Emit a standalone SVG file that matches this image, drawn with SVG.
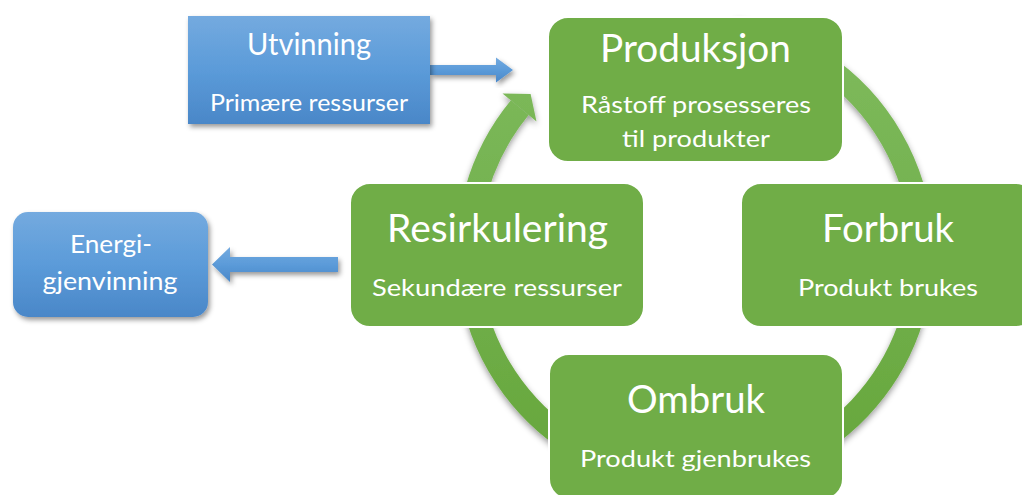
<svg xmlns="http://www.w3.org/2000/svg" width="1022" height="495" viewBox="0 0 1022 495">
  <defs>
    <linearGradient id="blueFill" x1="0" y1="0" x2="0" y2="1">
      <stop offset="0" stop-color="#74aadf"/>
      <stop offset="0.5" stop-color="#5b9bd9"/>
      <stop offset="1" stop-color="#4a87c8"/>
    </linearGradient>
    <linearGradient id="ringFill" gradientUnits="userSpaceOnUse" x1="0" y1="20" x2="0" y2="480">
      <stop offset="0" stop-color="#7fbb5e"/>
      <stop offset="1" stop-color="#66a63b"/>
    </linearGradient>
    <filter id="softShadow" x="-20%" y="-20%" width="140%" height="140%">
      <feDropShadow dx="2" dy="3" stdDeviation="2.5" flood-color="#000" flood-opacity="0.4"/>
    </filter>
    <filter id="ringShadow" x="-10%" y="-10%" width="120%" height="120%">
      <feDropShadow dx="0" dy="3" stdDeviation="3" flood-color="#000" flood-opacity="0.4"/>
    </filter>
  </defs>
  <style>
    .green { fill: #70ad47; stroke: #ffffff; stroke-width: 2; }
    .blue { fill: url(#blueFill); filter: url(#softShadow); }
    .arrow { fill: url(#blueFill); filter: url(#softShadow); }
    .title { font-family: Lato, "Liberation Sans", sans-serif; fill: #ffffff; text-anchor: middle; }
    .big { font-size: 39px; }
    .mid { font-size: 30px; }
    .small { font-size: 24px; }
    .box { font-size: 25px; }
  </style>

  <rect width="1022" height="495" fill="#ffffff"/>

  <!-- connectors: cycle ring with arrowhead, and the two block arrows -->
  <g id="connectors">
    <g filter="url(#ringShadow)">
      <path d="M734.4 28.4 A227 227 0 1 1 519.8 107.6" fill="none" stroke="url(#ringFill)" stroke-width="23"/>
      <polygon points="502.5,93.5 536.5,121.5 530.6,94" fill="url(#ringFill)"/>
    </g>
    <polygon class="arrow" points="430,65 496,65 496,57.5 513,70 496,82.5 496,75 430,75"/>
    <polygon class="arrow" points="338,257 230,257 230,247 212,264.5 230,282 230,272 338,272"/>
  </g>

  <g id="utvinning">
    <rect class="blue" x="188" y="16" width="242" height="108"/>
    <text class="title mid" x="309" y="55" textLength="124" lengthAdjust="spacingAndGlyphs">Utvinning</text>
    <text class="title small" x="309" y="111" textLength="198" lengthAdjust="spacingAndGlyphs">Primære ressurser</text>
  </g>

  <g id="energigjenvinning">
    <rect class="blue" x="13" y="212" width="195" height="105" rx="15"/>
    <text class="title box" x="111" y="253" textLength="82" lengthAdjust="spacingAndGlyphs">Energi-</text>
    <text class="title box" x="110" y="290" textLength="135" lengthAdjust="spacingAndGlyphs">gjenvinning</text>
  </g>

  <g id="produksjon">
    <rect class="green" x="548" y="17" width="295" height="145" rx="20"/>
    <text class="title big" x="695.5" y="62" textLength="191" lengthAdjust="spacingAndGlyphs">Produksjon</text>
    <text class="title small" x="696" y="113" textLength="230" lengthAdjust="spacingAndGlyphs">Råstoff prosesseres</text>
    <text class="title small" x="696" y="147" textLength="148" lengthAdjust="spacingAndGlyphs">til produkter</text>
  </g>

  <g id="forbruk">
    <rect class="green" x="741" y="183" width="295" height="144" rx="20"/>
    <text class="title big" x="888" y="242" textLength="132" lengthAdjust="spacingAndGlyphs">Forbruk</text>
    <text class="title small" x="888" y="296" textLength="180" lengthAdjust="spacingAndGlyphs">Produkt brukes</text>
  </g>

  <g id="resirkulering">
    <rect class="green" x="350" y="183" width="294" height="144" rx="20"/>
    <text class="title big" x="497.5" y="242" textLength="221" lengthAdjust="spacingAndGlyphs">Resirkulering</text>
    <text class="title small" x="497" y="296" textLength="250" lengthAdjust="spacingAndGlyphs">Sekundære ressurser</text>
  </g>

  <g id="ombruk">
    <rect class="green" x="549" y="354" width="294" height="145" rx="20"/>
    <text class="title big" x="696" y="413" textLength="138" lengthAdjust="spacingAndGlyphs">Ombruk</text>
    <text class="title small" x="695.5" y="467" textLength="231" lengthAdjust="spacingAndGlyphs">Produkt gjenbrukes</text>
  </g>
</svg>
